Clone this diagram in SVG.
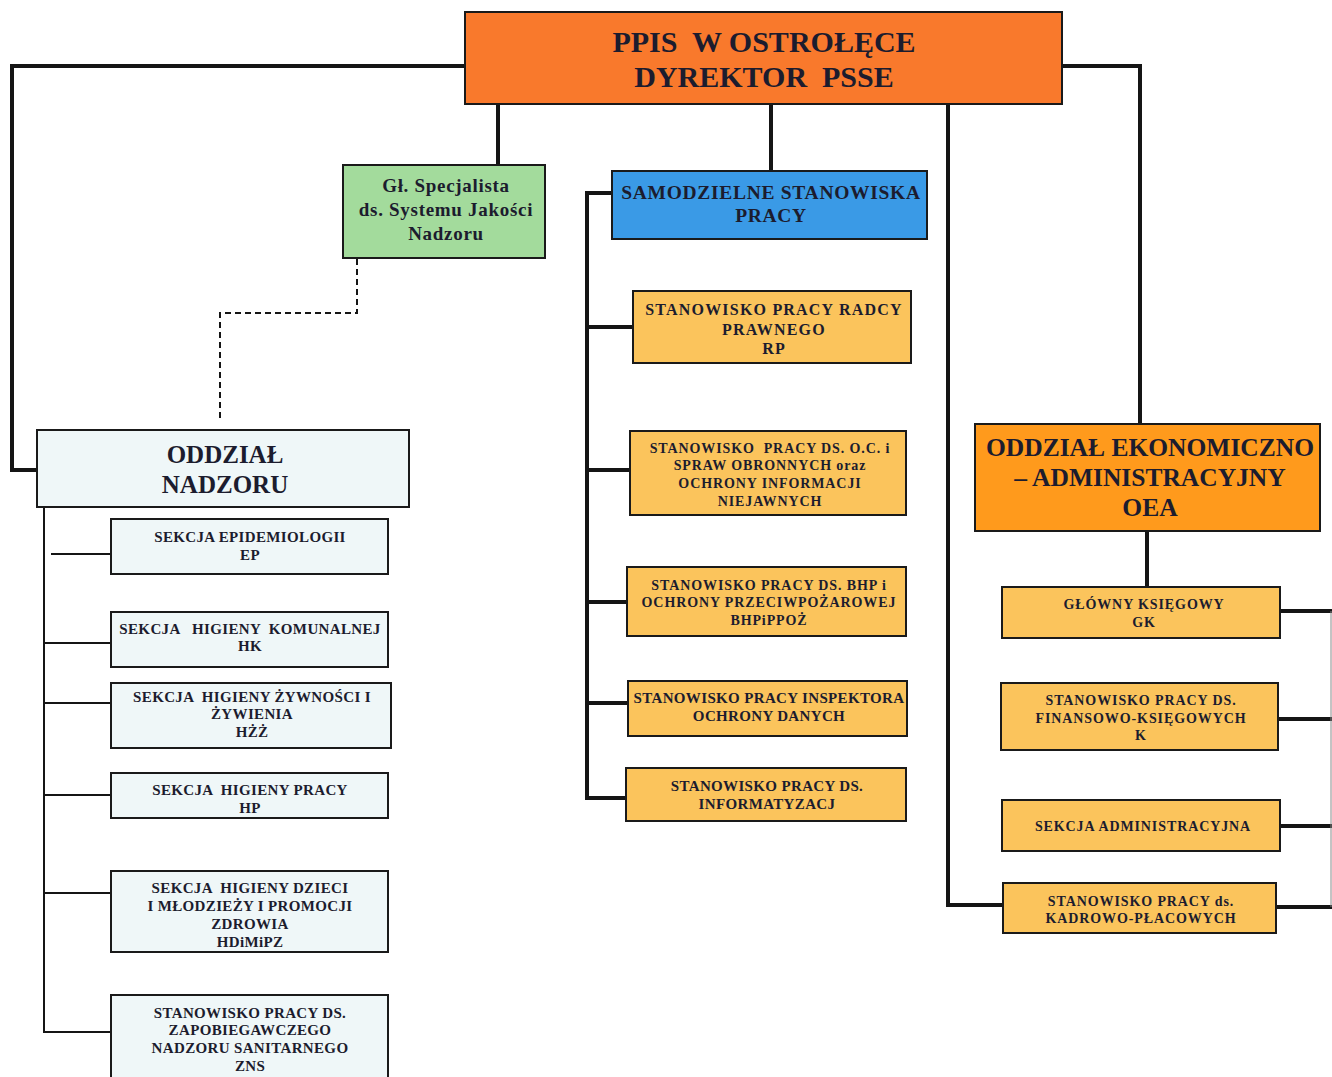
<svg xmlns="http://www.w3.org/2000/svg" width="1332" height="1077" viewBox="0 0 1332 1077">
<style>
.box{stroke:#1a1a1a;stroke-width:2}
.t{font-family:"Liberation Serif","DejaVu Serif","Times New Roman",serif;font-weight:bold;fill:#1c1c2e;text-anchor:middle;white-space:pre}
.a{font-size:14px;letter-spacing:0.9px}
.b{font-size:15px;letter-spacing:0.35px}
.c{font-size:16px;letter-spacing:1.2px}
.g{font-size:19px;letter-spacing:0.7px}
.h{font-size:19.5px;letter-spacing:0.7px}
.ln{fill:none;stroke:#151515;stroke-linecap:square}
.thick{stroke-width:4}
.thin{stroke-width:2}
.dash{fill:none;stroke:#151515;stroke-width:2;stroke-dasharray:6,4}
.yel{fill:#FBC45C}
.pale{fill:#EFF7F8}
</style>
<rect width="1332" height="1077" fill="#ffffff"/>
<g id="connectors">
<polyline class="ln thick" points="465,66 12,66 12,470 37,470"/>
<line class="ln thick" x1="498" y1="104" x2="498" y2="165"/>
<line class="ln thick" x1="771" y1="104" x2="771" y2="171"/>
<polyline class="ln thick" points="948,104 948,905 1003,905"/>
<polyline class="ln thick" points="1062,66 1140,66 1140,424"/>
<polyline class="dash" points="357,259 357,313 220,313 220,420"/>
<polyline class="ln thick" points="612,193 587,193 587,798 626,798"/>
<line class="ln thick" x1="587" y1="327" x2="633" y2="327"/>
<line class="ln thick" x1="587" y1="470" x2="630" y2="470"/>
<line class="ln thick" x1="587" y1="602" x2="627" y2="602"/>
<line class="ln thick" x1="587" y1="703" x2="628" y2="703"/>
<polyline class="ln thin" points="44,507 44,1032 111,1032"/>
<line class="ln thin" x1="52" y1="554" x2="111" y2="554"/>
<line class="ln thin" x1="44" y1="643" x2="111" y2="643"/>
<line class="ln thin" x1="44" y1="703" x2="111" y2="703"/>
<line class="ln thin" x1="44" y1="795" x2="111" y2="795"/>
<line class="ln thin" x1="44" y1="893" x2="111" y2="893"/>
<line class="ln thick" x1="1147" y1="531" x2="1147" y2="587"/>
<line class="ln thick" x1="1280" y1="611" x2="1332" y2="611"/>
<line class="ln thick" x1="1278" y1="719" x2="1332" y2="719"/>
<line class="ln thick" x1="1280" y1="826" x2="1332" y2="826"/>
<line class="ln thick" x1="1276" y1="907" x2="1332" y2="907"/>
<line x1="1331" y1="611" x2="1331" y2="907" stroke="#888888" stroke-width="1"/>
</g>
<g id="ppis">
<rect class="box" x="465" y="12" width="597" height="92" fill="#F9792C"/>
<text class="t" x="764" y="52" font-size="30" xml:space="preserve">PPIS  W OSTROŁĘCE</text>
<text class="t" x="764" y="87" font-size="30" xml:space="preserve">DYREKTOR  PSSE</text>
</g>
<g id="specjalista">
<rect class="box" x="343" y="165" width="202" height="93" fill="#A3DB9C"/>
<text class="t g" x="446" y="192">Gł. Specjalista</text>
<text class="t g" x="446" y="216">ds. Systemu Jakości</text>
<text class="t g" x="446" y="240">Nadzoru</text>
</g>
<g id="samodzielne">
<rect class="box" x="612" y="171" width="315" height="68" fill="#3A9AE6"/>
<text class="t h" x="771" y="199">SAMODZIELNE STANOWISKA</text>
<text class="t h" x="771" y="222">PRACY</text>
</g>
<g id="rp">
<rect class="box yel" x="633" y="291" width="278" height="72"/>
<text class="t c" x="774" y="315">STANOWISKO PRACY RADCY</text>
<text class="t c" x="774" y="335">PRAWNEGO</text>
<text class="t c" x="774" y="354">RP</text>
</g>
<g id="oc">
<rect class="box yel" x="630" y="431" width="276" height="84"/>
<text class="t a" x="770" y="453" xml:space="preserve">STANOWISKO  PRACY DS. O.C. i</text>
<text class="t a" x="770" y="470">SPRAW OBRONNYCH oraz</text>
<text class="t a" x="770" y="488">OCHRONY INFORMACJI</text>
<text class="t a" x="770" y="506">NIEJAWNYCH</text>
</g>
<g id="bhp">
<rect class="box yel" x="627" y="567" width="279" height="69"/>
<text class="t a" x="769" y="590">STANOWISKO PRACY DS. BHP i</text>
<text class="t a" x="769" y="607">OCHRONY PRZECIWPOŻAROWEJ</text>
<text class="t a" x="769" y="625">BHPiPPOŻ</text>
</g>
<g id="iod">
<rect class="box yel" x="628" y="681" width="279" height="55"/>
<text class="t b" x="769" y="703">STANOWISKO PRACY INSPEKTORA</text>
<text class="t b" x="769" y="721">OCHRONY DANYCH</text>
</g>
<g id="inf">
<rect class="box yel" x="626" y="768" width="280" height="53"/>
<text class="t b" x="767" y="791">STANOWISKO PRACY DS.</text>
<text class="t b" x="767" y="809">INFORMATYZACJ</text>
</g>
<g id="nadzor">
<rect class="box pale" x="37" y="430" width="372" height="77"/>
<text class="t" x="225" y="463" font-size="25">ODDZIAŁ</text>
<text class="t" x="225" y="493" font-size="25">NADZORU</text>
</g>
<g id="ep">
<rect class="box pale" x="111" y="519" width="277" height="55"/>
<text class="t b" x="250" y="542">SEKCJA EPIDEMIOLOGII</text>
<text class="t b" x="250" y="560">EP</text>
</g>
<g id="hk">
<rect class="box pale" x="111" y="612" width="277" height="55"/>
<text class="t b" x="250" y="634" xml:space="preserve">SEKCJA   HIGIENY  KOMUNALNEJ</text>
<text class="t b" x="250" y="651">HK</text>
</g>
<g id="hzz">
<rect class="box pale" x="111" y="683" width="280" height="65"/>
<text class="t b" x="252" y="702" xml:space="preserve">SEKCJA  HIGIENY ŻYWNOŚCI I</text>
<text class="t b" x="252" y="719">ŻYWIENIA</text>
<text class="t b" x="252" y="737">HŻŻ</text>
</g>
<g id="hp">
<rect class="box pale" x="111" y="773" width="277" height="45"/>
<text class="t b" x="250" y="795" xml:space="preserve">SEKCJA  HIGIENY PRACY</text>
<text class="t b" x="250" y="813">HP</text>
</g>
<g id="hdimipz">
<rect class="box pale" x="111" y="871" width="277" height="81"/>
<text class="t b" x="250" y="893" xml:space="preserve">SEKCJA  HIGIENY DZIECI</text>
<text class="t b" x="250" y="911">I MŁODZIEŻY I PROMOCJI</text>
<text class="t b" x="250" y="929">ZDROWIA</text>
<text class="t b" x="250" y="947">HDiMiPZ</text>
</g>
<g id="zns">
<rect class="box pale" x="111" y="995" width="277" height="90"/>
<text class="t b" x="250" y="1018">STANOWISKO PRACY DS.</text>
<text class="t b" x="250" y="1035">ZAPOBIEGAWCZEGO</text>
<text class="t b" x="250" y="1053">NADZORU SANITARNEGO</text>
<text class="t b" x="250" y="1071">ZNS</text>
</g>
<g id="oea">
<rect class="box" x="975" y="424" width="345" height="107" fill="#FF9A1C"/>
<text class="t" x="1150" y="456" font-size="25.5">ODDZIAŁ EKONOMICZNO</text>
<text class="t" x="1150" y="486" font-size="25.5">– ADMINISTRACYJNY</text>
<text class="t" x="1150" y="516" font-size="25.5">OEA</text>
</g>
<g id="gk">
<rect class="box yel" x="1002" y="587" width="278" height="51"/>
<text class="t a" x="1144" y="609">GŁÓWNY KSIĘGOWY</text>
<text class="t a" x="1144" y="627">GK</text>
</g>
<g id="fk">
<rect class="box yel" x="1001" y="683" width="277" height="67"/>
<text class="t a" x="1141" y="705">STANOWISKO PRACY DS.</text>
<text class="t a" x="1141" y="723">FINANSOWO-KSIĘGOWYCH</text>
<text class="t a" x="1141" y="740">K</text>
</g>
<g id="sa">
<rect class="box yel" x="1002" y="800" width="278" height="51"/>
<text class="t a" x="1143" y="831">SEKCJA ADMINISTRACYJNA</text>
</g>
<g id="kp">
<rect class="box yel" x="1003" y="883" width="273" height="50"/>
<text class="t a" x="1141" y="906">STANOWISKO PRACY ds.</text>
<text class="t a" x="1141" y="923">KADROWO-PŁACOWYCH</text>
</g>
</svg>
